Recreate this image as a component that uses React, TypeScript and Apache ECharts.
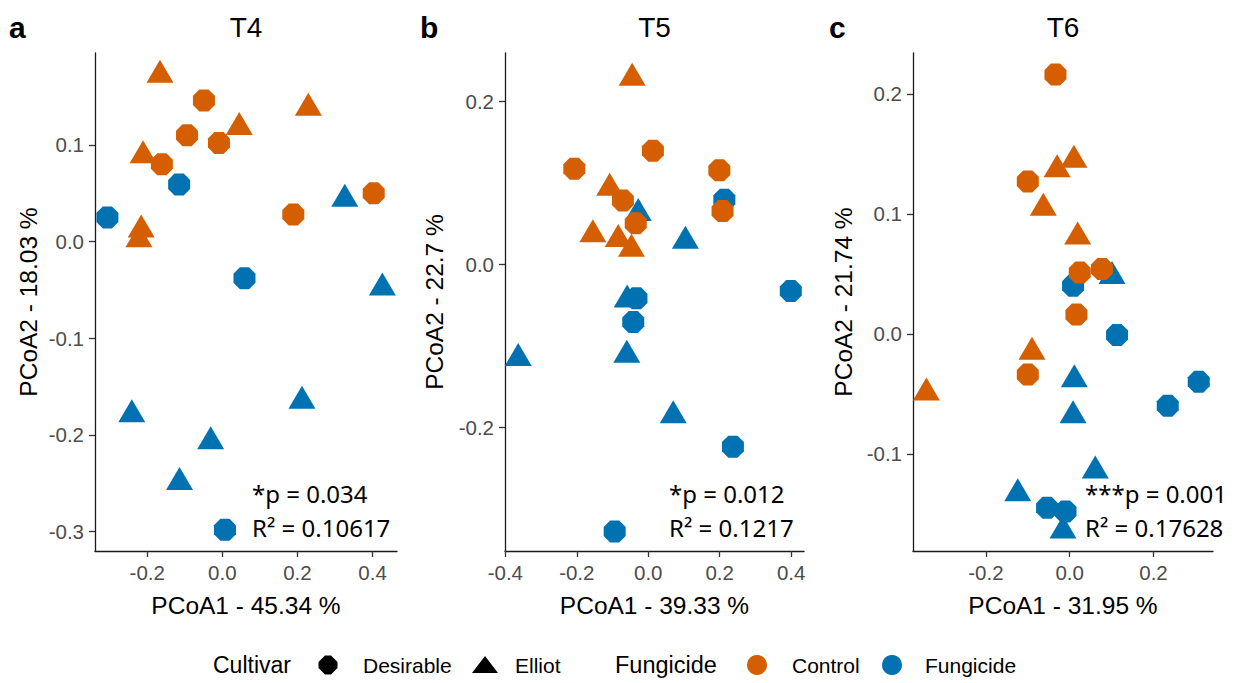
import React, { useEffect, useRef } from "react";
import * as echarts from "echarts";

const ORANGE = "#D55E00";
const BLUE = "#0072B2";
const FONT = "Liberation Sans, Arial, sans-serif";
const NOTE_FONT = "Noto Sans, sans-serif";

const panelTitles = ["T4", "T5", "T6"];
const panelLetters = ["a", "b", "c"];
const xTitles = ["PCoA1 - 45.34 %", "PCoA1 - 39.33 %", "PCoA1 - 31.95 %"];
const yTitles = ["PCoA2 - 18.03 %", "PCoA2 - 22.7 %", "PCoA2 - 21.74 %"];
const pTexts = ["*p = 0.034", "*p = 0.012", "***p = 0.001"];
const r2Texts = ["R\u00B2 = 0.10617", "R\u00B2 = 0.1217", "R\u00B2 = 0.17628"];

const xTicks = [
  [-0.2, 0.0, 0.2, 0.4],
  [-0.4, -0.2, 0.0, 0.2, 0.4],
  [-0.2, 0.0, 0.2],
];
const yTicks = [
  [-0.3, -0.2, -0.1, 0.0, 0.1],
  [-0.2, 0.0, 0.2],
  [-0.1, 0.0, 0.1, 0.2],
];
const xRanges = [
  [-0.339, 0.465],
  [-0.401, 0.436],
  [-0.374, 0.342],
];
const yRanges = [
  [-0.32, 0.195],
  [-0.352, 0.259],
  [-0.181, 0.234],
];

// T4
const t4ControlDesirable = [[-0.049, 0.146], [-0.094, 0.110], [-0.009, 0.102], [-0.161, 0.080], [0.189, 0.028], [0.403, 0.050]];
const t4ControlElliot = [[-0.166, 0.176], [0.045, 0.122], [0.229, 0.142], [-0.211, 0.093], [-0.216, 0.016], [-0.222, 0.006]];
const t4FungicideDesirable = [[-0.115, 0.059], [-0.306, 0.025], [0.059, -0.038], [0.007, -0.298]];
const t4FungicideElliot = [[0.326, 0.048], [0.426, -0.044], [-0.241, -0.175], [0.212, -0.161], [-0.031, -0.203], [-0.114, -0.245]];

// T5
const t5ControlDesirable = [[0.013, 0.139], [-0.207, 0.117], [0.199, 0.115], [-0.071, 0.078], [0.208, 0.065], [-0.035, 0.050]];
const t5ControlElliot = [[-0.045, 0.233], [-0.108, 0.098], [-0.155, 0.041], [-0.084, 0.035], [-0.047, 0.023]];
const t5FungicideDesirable = [[0.213, 0.079], [0.399, -0.033], [-0.033, -0.042], [-0.042, -0.071], [0.237, -0.224], [-0.094, -0.328]];
const t5FungicideElliot = [[-0.028, 0.067], [0.104, 0.033], [-0.059, -0.039], [-0.364, -0.111], [-0.060, -0.107], [0.070, -0.181]];

// T6
const t6ControlDesirable = [[-0.034, 0.216], [-0.100, 0.127], [0.024, 0.051], [0.077, 0.054], [0.016, 0.016], [-0.100, -0.034]];
const t6ControlElliot = [[0.010, 0.148], [-0.030, 0.140], [-0.063, 0.108], [0.019, 0.084], [-0.090, -0.012], [-0.342, -0.046]];
const t6FungicideDesirable = [[0.008, 0.040], [0.113, -0.001], [0.308, -0.040], [0.234, -0.060], [-0.054, -0.145], [-0.010, -0.148]];
const t6FungicideElliot = [[0.101, 0.051], [0.011, -0.035], [0.008, -0.065], [0.061, -0.111], [-0.124, -0.130], [-0.016, -0.161]];

const panels = [
  { cd: t4ControlDesirable, ce: t4ControlElliot, fd: t4FungicideDesirable, fe: t4FungicideElliot },
  { cd: t5ControlDesirable, ce: t5ControlElliot, fd: t5FungicideDesirable, fe: t5FungicideElliot },
  { cd: t6ControlDesirable, ce: t6ControlElliot, fd: t6FungicideDesirable, fe: t6FungicideElliot },
];

const OCTAGON = "path://M29.3,0 L70.7,0 L100,29.3 L100,70.7 L70.7,100 L29.3,100 L0,70.7 L0,29.3 Z";

const grids = [
  { left: 95, top: 53, width: 302, height: 498 },
  { left: 505, top: 53, width: 299, height: 498 },
  { left: 913, top: 53, width: 300, height: 498 },
];
const noteLeft = [252, 669, 1085];
const yTitleX = [28, 434, 843];
const letterX = [9, 420, 829];

export default function App() {
  const ref = useRef<HTMLDivElement>(null);
  useEffect(() => {
    if (!ref.current) return;
    const chart = echarts.init(ref.current, undefined, { renderer: "svg" });

    const xAxis: any[] = [];
    const yAxis: any[] = [];
    const series: any[] = [];
    const graphic: any[] = [];

    const axisCommon = (ticks: number[]) => ({
      type: "value",
      axisLine: { show: true, onZero: false, lineStyle: { color: "#1a1a1a", width: 1.3 } },
      axisTick: { show: true, length: 6, customValues: ticks, lineStyle: { color: "#333333", width: 1.3 } },
      axisLabel: {
        customValues: ticks,
        formatter: (v: number) => v.toFixed(1),
        color: "#4D4D4D",
        fontSize: 20.5,
        fontFamily: FONT,
        margin: 11,
      },
      splitLine: { show: false },
    });

    panels.forEach((p, i) => {
      xAxis.push({ ...axisCommon(xTicks[i]), gridIndex: i, min: xRanges[i][0], max: xRanges[i][1] });
      yAxis.push({ ...axisCommon(yTicks[i]), gridIndex: i, min: yRanges[i][0], max: yRanges[i][1] });
      const mk = (data: number[][], color: string, tri: boolean) => ({
        type: "scatter",
        xAxisIndex: i,
        yAxisIndex: i,
        data,
        symbol: tri ? "triangle" : OCTAGON,
        symbolSize: tri ? [27, 23] : 22,
        itemStyle: { color, opacity: 1 },
        silent: true,
      });
      series.push(mk(p.fd, BLUE, false));
      series.push(mk(p.fe, BLUE, true));
      series.push(mk(p.cd, ORANGE, false));
      series.push(mk(p.ce, ORANGE, true));

      const g = grids[i];
      const cx = g.left + g.width / 2;
      graphic.push({
        type: "text", x: cx, y: 27,
        style: { text: panelTitles[i], fontSize: 28, fontFamily: FONT, fill: "#000", align: "center", verticalAlign: "middle" },
      });
      graphic.push({
        type: "text", x: letterX[i], y: 27,
        style: { text: panelLetters[i], fontSize: 30, fontWeight: "bold", fontFamily: FONT, fill: "#000", align: "left", verticalAlign: "middle" },
      });
      graphic.push({
        type: "text", x: cx, y: 605,
        style: { text: xTitles[i], fontSize: 24.5, fontFamily: FONT, fill: "#000", align: "center", verticalAlign: "middle" },
      });
      graphic.push({
        type: "text", x: yTitleX[i], y: g.top + g.height / 2, rotation: Math.PI / 2,
        style: { text: yTitles[i], fontSize: 24.5, fontFamily: FONT, fill: "#000", align: "center", verticalAlign: "middle" },
      });
      graphic.push({
        type: "text", x: noteLeft[i], y: 493,
        style: { text: pTexts[i], fontSize: 24, fontFamily: NOTE_FONT, fill: "#000", align: "left", verticalAlign: "middle" },
      });
      graphic.push({
        type: "text", x: noteLeft[i], y: 527,
        style: { text: r2Texts[i], fontSize: 24, fontFamily: NOTE_FONT, fill: "#000", align: "left", verticalAlign: "middle" },
      });
    });

    // Legend
    const LY = 665;
    const legendText = (text: string, x: number, size: number) => ({
      type: "text", x, y: LY,
      style: { text, fontSize: size, fontFamily: FONT, fill: "#000", align: "left", verticalAlign: "middle" },
    });
    graphic.push(legendText("Cultivar", 213, 23));
    graphic.push({
      type: "polygon",
      shape: {
        points: [[-3, -9.5], [3, -9.5], [9.5, -3], [9.5, 3], [3, 9.5], [-3, 9.5], [-9.5, 3], [-9.5, -3]].map((pt) => [pt[0] + 328, pt[1] + LY]),
      },
      style: { fill: "#000" },
    });
    graphic.push(legendText("Desirable", 363, 21));
    graphic.push({
      type: "polygon",
      shape: { points: [[485, LY - 9], [498, LY + 8], [472, LY + 8]] },
      style: { fill: "#000" },
    });
    graphic.push(legendText("Elliot", 515, 21));
    graphic.push(legendText("Fungicide", 615, 23.5));
    graphic.push({ type: "circle", shape: { cx: 757, cy: LY, r: 10 }, style: { fill: ORANGE } });
    graphic.push(legendText("Control", 792, 21));
    graphic.push({ type: "circle", shape: { cx: 892, cy: LY, r: 10 }, style: { fill: BLUE } });
    graphic.push(legendText("Fungicide", 925, 21));

    chart.setOption({
      animation: false,
      backgroundColor: "#ffffff",
      grid: grids.map((g) => ({ ...g, containLabel: false })),
      xAxis,
      yAxis,
      series,
      graphic,
    });
    return () => chart.dispose();
  }, []);
  return <div ref={ref} style={{ position: "absolute", left: 0, top: 0, width: 1238, height: 683 }} />;
}
